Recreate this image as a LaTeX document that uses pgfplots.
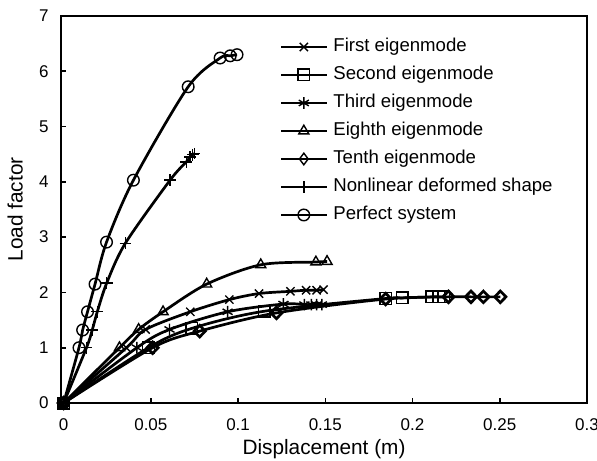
\documentclass[border=0pt]{standalone}
\usepackage{fontspec}
\setmainfont{Liberation Sans}
\usepackage{pgfplots}
\pgfplotsset{compat=1.18}
\tikzset{curve/.style={black, line width=1.35pt, smooth,
    mark size=2.9pt, mark options={line width=0.7pt, solid}}}

\begin{document}
\begin{tikzpicture}
\useasboundingbox (-30.5pt,-28.5pt) rectangle (268pt,201.5pt);
\begin{axis}[
  at={(0,0)}, anchor=south west,
  scale only axis, width=263pt, height=193.5pt,
  xmin=-0.0015, xmax=0.3, ymin=0, ymax=7,
  xtick={0,0.05,0.1,0.15,0.2,0.25,0.3},
  ytick={0,1,2,3,4,5,6,7},
  tick align=inside, xtick pos=left, ytick pos=left,
  major tick length=2.5pt,
  scaled x ticks=false,
  xticklabel style={/pgf/number format/fixed, /pgf/number format/precision=2, yshift=-4.5pt},
  yticklabel style={xshift=-2.7pt},
  /pgf/number format/assume math mode=true,
  tick label style={font=\fontsize{8.5}{10}\selectfont, black},
  label style={font=\fontsize{10.4}{12}\selectfont},
  xlabel={Displacement (m)}, ylabel={Load factor},
  xlabel style={at={(axis description cs:0.5,-0.134)}, anchor=base},
  ylabel style={at={(axis description cs:-0.087,0.5)}, anchor=center},
  axis line style={line width=1pt},
  every tick/.style={black, line width=0.8pt},
  legend image code/.code={
    \draw[curve, line width=1.1pt, mark repeat=2, mark phase=2, #1]
      plot coordinates {(0pt,0pt) (11.25pt,0pt) (22.5pt,0pt)};},
  legend cell align=left,
  legend style={draw=none, fill=none, inner sep=0pt,
    at={(rel axis cs:0.416,0.952)}, anchor=north west,
    font=\fontsize{9.3}{11}\selectfont,
    nodes={inner sep=1.5pt, text height=7pt, text depth=2pt},
    column sep=1.5pt, row sep=2pt},
]
% First eigenmode
\addplot[curve, mark=x] coordinates {
  (0,0) (0.036,1.00) (0.047,1.33) (0.0726,1.65) (0.095,1.87)
  (0.112,1.98) (0.130,2.02) (0.139,2.04) (0.145,2.04) (0.149,2.05)};
\addlegendentry{First eigenmode}
% Second eigenmode
\addplot[curve, mark=square] coordinates {
  (0,0) (0.0486,1.00) (0.0735,1.35) (0.115,1.66) (0.1846,1.89)
  (0.194,1.90) (0.211,1.92) (0.215,1.92) (0.218,1.92)};
\addlegendentry{Second eigenmode}
% Third eigenmode
\addplot[curve, mark=asterisk] coordinates {
  (0,0) (0.042,1.00) (0.0607,1.33) (0.094,1.65) (0.126,1.79)
  (0.138,1.78) (0.142,1.78) (0.145,1.78) (0.148,1.78)};
\addlegendentry{Third eigenmode}
% Eighth eigenmode
\addplot[curve, mark=triangle] coordinates {
  (0,0) (0.032,1.00) (0.043,1.33) (0.057,1.65) (0.082,2.15)
  (0.113,2.50) (0.1446,2.55) (0.151,2.56)};
\addlegendentry{Eighth eigenmode}
% Tenth eigenmode
\addplot[curve, mark=diamond, mark options={xscale=1.3}] coordinates {
  (0,0) (0.051,1.00) (0.078,1.30) (0.122,1.63) (0.1846,1.88)
  (0.2206,1.92) (0.2335,1.92) (0.2406,1.92) (0.2503,1.92)};
\addlegendentry{Tenth eigenmode}
% Nonlinear deformed shape
\addplot[curve, mark=+] coordinates {
  (0,0) (0.0131,1.00) (0.0164,1.32) (0.0193,1.65) (0.0247,2.17)
  (0.0354,2.89) (0.061,4.03) (0.0703,4.36) (0.0725,4.45) (0.074,4.49) (0.075,4.51)};
\addlegendentry{Nonlinear deformed shape}
% Perfect system
\addplot[curve, mark=o] coordinates {
  (0,0) (0.0088,1.00) (0.0109,1.32) (0.0137,1.65) (0.018,2.15)
  (0.0246,2.91) (0.040,4.03) (0.0714,5.72) (0.0897,6.24) (0.0955,6.28) (0.0994,6.30)};
\addlegendentry{Perfect system}
\end{axis}
\end{tikzpicture}
\end{document}
